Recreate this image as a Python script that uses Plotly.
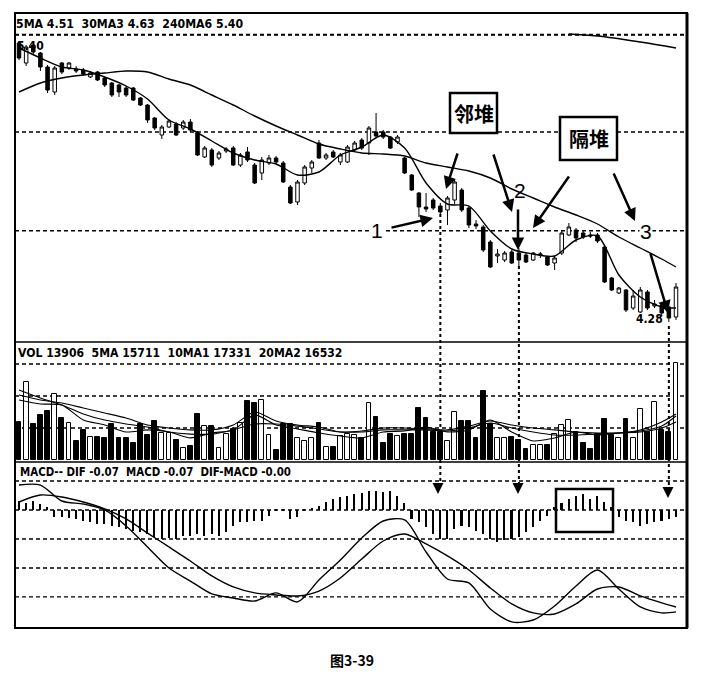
import plotly.graph_objects as go
from plotly.subplots import make_subplots

# ---------------- daily K-line data ----------------
open_ = [5.396, 5.316, 5.388, 5.356, 5.300, 5.200, 5.316, 5.296, 5.292, 5.288,
         5.260, 5.280, 5.256, 5.236, 5.228, 5.216, 5.216, 5.176, 5.148, 5.096,
         5.028, 5.060, 5.072, 5.056, 5.080, 5.036, 4.940, 4.968, 4.936, 4.964,
         4.976, 4.908, 4.960, 4.908, 4.876, 4.916, 4.936, 4.916, 4.820, 4.760,
         4.836, 4.896, 4.996, 4.936, 4.960, 4.920, 4.920, 4.968, 5.008, 4.996,
         5.040, 5.040, 5.020, 5.000, 4.936, 4.868, 4.796, 4.740, 4.768, 4.744,
         4.728, 4.768, 4.808, 4.736, 4.672, 4.660, 4.600, 4.544, 4.528, 4.560,
         4.556, 4.548, 4.528, 4.548, 4.540, 4.516, 4.556, 4.628, 4.648, 4.636,
         4.628, 4.628, 4.580, 4.456, 4.396, 4.408, 4.336, 4.320, 4.400, 4.344,
         4.348, 4.340, 4.300]
high = [5.400, 5.388, 5.392, 5.360, 5.308, 5.304, 5.320, 5.320, 5.304, 5.296,
        5.284, 5.284, 5.260, 5.240, 5.232, 5.224, 5.220, 5.180, 5.152, 5.100,
        5.068, 5.092, 5.080, 5.088, 5.092, 5.044, 4.984, 4.976, 4.964, 4.980,
        4.984, 4.956, 4.980, 4.916, 4.940, 4.948, 4.944, 4.924, 4.828, 4.848,
        4.908, 4.928, 5.008, 4.956, 4.968, 4.956, 4.988, 5.004, 5.016, 5.064,
        5.116, 5.048, 5.024, 5.028, 4.940, 4.872, 4.800, 4.796, 4.776, 4.756,
        4.784, 4.848, 4.816, 4.744, 4.688, 4.668, 4.608, 4.572, 4.564, 4.568,
        4.576, 4.556, 4.560, 4.560, 4.544, 4.544, 4.644, 4.676, 4.656, 4.644,
        4.640, 4.636, 4.588, 4.460, 4.420, 4.412, 4.408, 4.420, 4.408, 4.368,
        4.356, 4.344, 4.436]
low = [5.328, 5.304, 5.352, 5.284, 5.196, 5.188, 5.272, 5.288, 5.276, 5.264,
       5.256, 5.244, 5.220, 5.180, 5.180, 5.180, 5.164, 5.144, 5.076, 5.048,
       5.012, 5.056, 5.024, 5.048, 5.040, 4.944, 4.936, 4.900, 4.928, 4.956,
       4.904, 4.900, 4.920, 4.832, 4.848, 4.908, 4.912, 4.836, 4.752, 4.748,
       4.828, 4.876, 4.932, 4.928, 4.936, 4.908, 4.916, 4.960, 4.968, 4.948,
       5.016, 5.012, 4.972, 4.992, 4.872, 4.804, 4.700, 4.720, 4.728, 4.708,
       4.668, 4.752, 4.720, 4.656, 4.652, 4.560, 4.496, 4.516, 4.520, 4.512,
       4.504, 4.516, 4.524, 4.536, 4.504, 4.488, 4.548, 4.624, 4.600, 4.612,
       4.616, 4.596, 4.436, 4.404, 4.392, 4.320, 4.328, 4.316, 4.328, 4.336,
       4.304, 4.280, 4.288]
close = [5.336, 5.380, 5.360, 5.300, 5.208, 5.296, 5.280, 5.316, 5.284, 5.272,
         5.276, 5.248, 5.228, 5.188, 5.200, 5.188, 5.168, 5.148, 5.088, 5.056,
         5.060, 5.084, 5.028, 5.080, 5.048, 4.948, 4.976, 4.908, 4.956, 4.972,
         4.908, 4.948, 4.928, 4.836, 4.928, 4.936, 4.920, 4.840, 4.756, 4.840,
         4.900, 4.920, 4.936, 4.948, 4.940, 4.948, 4.980, 4.996, 4.976, 5.056,
         5.024, 5.020, 4.976, 5.020, 4.876, 4.808, 4.740, 4.732, 4.736, 4.720,
         4.776, 4.840, 4.728, 4.668, 4.664, 4.568, 4.500, 4.552, 4.556, 4.516,
         4.528, 4.520, 4.556, 4.552, 4.508, 4.536, 4.636, 4.660, 4.616, 4.620,
         4.624, 4.604, 4.440, 4.408, 4.416, 4.328, 4.384, 4.408, 4.336, 4.352,
         4.316, 4.296, 4.420]
days = list(range(len(close)))

# moving averages, sampled every third session
ma_days = [0, 3, 6, 9, 12, 15, 18, 21, 24, 27, 30, 33, 36, 39, 42, 45,
           48, 51, 54, 57, 60, 63, 66, 69, 72, 75, 78, 81, 84, 87, 90, 92]
ma5 = [5.376, 5.336, 5.300, 5.288, 5.260, 5.224, 5.172, 5.088, 5.052, 5.004,
       4.956, 4.928, 4.912, 4.868, 4.880, 4.948, 4.980, 5.028, 4.976, 4.836,
       4.752, 4.744, 4.644, 4.572, 4.552, 4.544, 4.608, 4.624, 4.468, 4.380,
       4.340, 4.336]
ma30 = [5.200, 5.236, 5.256, 5.268, 5.276, 5.284, 5.280, 5.252, 5.228, 5.188,
        5.148, 5.104, 5.064, 5.028, 4.992, 4.972, 4.956, 4.952, 4.944, 4.916,
        4.900, 4.884, 4.856, 4.812, 4.776, 4.740, 4.708, 4.672, 4.620, 4.576,
        4.532, 4.500]
ma240_days = [77, 81, 87, 92]
ma240 = [5.432, 5.424, 5.400, 5.376]

# ---------------- volume ----------------
volume = [11900, 24400, 11250, 14000, 15300, 20600, 13100, 11600, 5900, 9400,
          7200, 7200, 6900, 11200, 6900, 6900, 5300, 11200, 7800, 12200,
          8400, 8400, 6300, 3800, 4400, 14400, 10600, 10600, 3800, 8100,
          9700, 11600, 18400, 17800, 18700, 7800, 3100, 11200, 11200, 6900,
          5900, 6900, 11600, 4100, 4100, 7500, 8100, 7800, 6900, 17800,
          13400, 5300, 8100, 7500, 8100, 8100, 16200, 13100, 8700, 8700,
          5900, 15000, 12200, 12200, 6900, 21600, 11200, 6900, 6900, 7200,
          6300, 3400, 4700, 4700, 4700, 8100, 10900, 12500, 8700, 5300,
          3400, 8100, 12800, 7800, 6900, 12800, 6900, 15900, 8700, 18100,
          9400, 8700, 30300]
vma5 = [18750, 17500, 17200, 12500, 10950, 8750, 9400, 8750, 6900, 8450,
        9400, 14100, 10950, 9700, 8450, 7500, 6900, 8750, 9050, 10300,
        8750, 9400, 12500, 8750, 5950, 6900, 8750, 7800, 8450, 9050,
        10600, 13750]
vma10 = [21900, 19400, 17200, 14400, 12500, 11250, 10300, 8750, 8100, 8100,
         9400, 11250, 11250, 10600, 9700, 8750, 8750, 9400, 9400, 9400,
         9050, 10000, 11550, 10000, 8750, 7800, 7800, 8100, 8450, 8750,
         10000, 11900]
vma20 = [20300, 18750, 17800, 16250, 14700, 13100, 10950, 10000, 9400, 9400,
         10950, 15000, 12200, 10950, 10300, 8750, 9050, 10000, 10000, 9700,
         9400, 10600, 12200, 10950, 10000, 9400, 8750, 8450, 8450, 9400,
         11900, 14400]

# ---------------- MACD ----------------
dif = [0.0172, 0.0172, 0.0062, 0.0041, 0.0000, -0.0110, -0.0255, -0.0400,
       -0.0490, -0.0579, -0.0607, -0.0628, -0.0572, -0.0634, -0.0483, -0.0345,
       -0.0193, -0.0076, -0.0069, -0.0290, -0.0476, -0.0503, -0.0683, -0.0772,
       -0.0759, -0.0662, -0.0524, -0.0414, -0.0545, -0.0669, -0.0710, -0.0703]
dea = [0.0055, 0.0103, 0.0090, 0.0055, 0.0007, -0.0062, -0.0159, -0.0255,
       -0.0352, -0.0455, -0.0531, -0.0572, -0.0586, -0.0593, -0.0559, -0.0469,
       -0.0338, -0.0214, -0.0166, -0.0234, -0.0317, -0.0414, -0.0538, -0.0648,
       -0.0710, -0.0717, -0.0648, -0.0545, -0.0531, -0.0593, -0.0641, -0.0669]
macd_bar = [0.006, 0.005, 0.006, 0.004, 0.002,
            -0.005, -0.005, -0.0055, -0.006, -0.0074, -0.0085, -0.0097, -0.0097,
            -0.0108, -0.012, -0.0131, -0.0143, -0.0154, -0.0166, -0.0189, -0.02,
            -0.0195, -0.02, -0.0177, -0.0177, -0.0166, -0.0177, -0.0166, -0.018,
            -0.0154, -0.0108, -0.0085, -0.0085, -0.0074, -0.0074, -0.004, -0.001,
            -0.001, -0.006, -0.005, -0.001,
            0.001, 0.003, 0.0053, 0.0076, 0.0088, 0.0099, 0.011, 0.0115, 0.0133,
            0.0133, 0.0125, 0.0133, 0.0099, 0.005,
            -0.006, -0.0085, -0.012, -0.0166, -0.02, -0.02, -0.0131, -0.0108,
            -0.012, -0.0143, -0.0166, -0.02, -0.0223, -0.021, -0.02, -0.0189,
            -0.0154, -0.012, -0.0075, -0.004,
            0.002, 0.0045, 0.0075, 0.0099, 0.011, 0.0076, 0.0099, 0.0053, 0.0019,
            -0.0045, -0.0074, -0.0085, -0.0108, -0.0097, -0.0085, -0.0074,
            -0.0062, -0.0045]

price_grid = [5.43, 5.04, 4.645]
vol_grid = [10000, 20000, 30000]
macd_grid = [0.02, 0.0, -0.02, -0.04, -0.06]

price_header = "5MA 4.51&nbsp;&nbsp;30MA3 4.63&nbsp;&nbsp;240MA6 5.40"
vol_header = "VOL 13906&nbsp;&nbsp;5MA 15711&nbsp;&nbsp;10MA1 17331&nbsp;&nbsp;20MA2 16532"
macd_header = "MACD-- DIF -0.07&nbsp;&nbsp;MACD -0.07&nbsp;&nbsp;DIF-MACD -0.00"
caption = "图3-39"

W, H = 705, 679
L, R, T, B = 15, 687, 13, 628


def px(X):
    return (X - L) / (R - L)


def py(Y):
    return (B - Y) / (B - T)


fig = make_subplots(rows=3, cols=1, shared_xaxes=True, vertical_spacing=0)

fig.add_trace(go.Candlestick(
    x=days, open=open_, high=high, low=low, close=close,
    increasing=dict(line=dict(color="black", width=1), fillcolor="white"),
    decreasing=dict(line=dict(color="black", width=1), fillcolor="black"),
    whiskerwidth=0, showlegend=False, hoverinfo="skip"), row=1, col=1)
for ys in (ma5, ma30):
    fig.add_trace(go.Scatter(x=ma_days, y=ys, mode="lines",
                             line=dict(color="black", width=1.4, shape="spline", smoothing=0.8),
                             showlegend=False, hoverinfo="skip"), row=1, col=1)
fig.add_trace(go.Scatter(x=ma240_days, y=ma240, mode="lines",
                         line=dict(color="black", width=1.6, shape="spline"),
                         showlegend=False, hoverinfo="skip"), row=1, col=1)

vol_colors = ["white" if c >= o else "black" for o, c in zip(open_, close)]
fig.add_trace(go.Bar(x=days, y=volume, width=0.68, marker=dict(color=vol_colors,
                     line=dict(color="black", width=1)),
                     showlegend=False, hoverinfo="skip"), row=2, col=1)
for ys in (vma5, vma10, vma20):
    fig.add_trace(go.Scatter(x=ma_days, y=ys, mode="lines",
                             line=dict(color="black", width=1.1, shape="spline", smoothing=0.7),
                             showlegend=False, hoverinfo="skip"), row=2, col=1)

fig.add_trace(go.Bar(x=days, y=macd_bar, width=0.22, marker=dict(color="black", line=dict(width=0)),
                     showlegend=False, hoverinfo="skip"), row=3, col=1)
for ys in (dif, dea):
    fig.add_trace(go.Scatter(x=ma_days, y=ys, mode="lines",
                             line=dict(color="black", width=1.4, shape="spline", smoothing=0.8),
                             showlegend=False, hoverinfo="skip"), row=3, col=1)

x_range = [-0.56, 93.54]
for ax in ("xaxis", "xaxis2", "xaxis3"):
    fig.layout[ax].update(range=x_range, visible=False, rangeslider=dict(visible=False))
fig.layout.yaxis.update(domain=[py(342), 1], range=[4.200, 5.516], visible=False)
fig.layout.yaxis2.update(domain=[py(462), py(342)], range=[-625, 36875], visible=False)
fig.layout.yaxis3.update(domain=[0, py(462)], range=[-0.0814, 0.0331], visible=False)

shapes = []
dash = "4px,3px"
for g in price_grid:
    shapes.append(dict(type="line", xref="paper", yref="y", x0=0, x1=1, y0=g, y1=g,
                       line=dict(color="black", width=1.3, dash=dash), layer="below"))
for g in vol_grid:
    shapes.append(dict(type="line", xref="paper", yref="y2", x0=0, x1=1, y0=g, y1=g,
                       line=dict(color="black", width=1.3, dash=dash), layer="below"))
for g in macd_grid:
    shapes.append(dict(type="line", xref="paper", yref="y3", x0=0, x1=1, y0=g, y1=g,
                       line=dict(color="black", width=1.3, dash=dash), layer="below"))
# header rule of the price panel
shapes.append(dict(type="line", xref="paper", yref="paper", x0=0, x1=1, y0=py(35), y1=py(35),
                   line=dict(color="black", width=1.3, dash=dash), layer="below"))
# small ticks to the left of the frame
for ref, vals in (("y2", vol_grid), ("y3", macd_grid)):
    for g in vals:
        shapes.append(dict(type="line", xref="paper", yref=ref, x0=px(11), x1=px(11),
                           y0=g, y1=g, line=dict(color="black", width=2),
                           layer="above"))
# frame
shapes.append(dict(type="rect", xref="paper", yref="paper", x0=0, x1=1, y0=0, y1=1,
                   line=dict(color="black", width=2)))
shapes.append(dict(type="line", xref="paper", yref="paper", x0=1, x1=1, y0=0, y1=1,
                   line=dict(color="black", width=3)))
for Y in (342, 462):
    shapes.append(dict(type="line", xref="paper", yref="paper", x0=0, x1=1, y0=py(Y), y1=py(Y),
                       line=dict(color="black", width=1.5)))
# dotted guides from price lows down into the MACD panel
for d, Y0, Y1 in ((59, 214, 486), (70, 266, 486), (91, 326, 490)):
    shapes.append(dict(type="line", xref="x", yref="paper", x0=d, x1=d, y0=py(Y0), y1=py(Y1),
                       line=dict(color="black", width=2, dash="dot")))
# labelled boxes
shapes.append(dict(type="rect", xref="paper", yref="paper", x0=px(450), x1=px(497),
                   y0=py(133), y1=py(93), line=dict(color="black", width=2.5),
                   fillcolor="white", layer="above"))
shapes.append(dict(type="rect", xref="paper", yref="paper", x0=px(560), x1=px(617),
                   y0=py(160), y1=py(117), line=dict(color="black", width=2.5),
                   fillcolor="white", layer="above"))
shapes.append(dict(type="rect", xref="paper", yref="paper", x0=px(556), x1=px(613),
                   y0=py(532), y1=py(489), line=dict(color="black", width=2.5)))

hdr_font = dict(family="Liberation Sans Narrow, DejaVu Sans Condensed, Arial Narrow, sans-serif",
                size=12, color="black")
ann = []


def text(X, Y, s, size=12, font=None, anchor="left", bg=None, bold=True):
    f = dict(font or hdr_font)
    f["size"] = size
    ann.append(dict(xref="paper", yref="paper", x=px(X), y=py(Y), text=(f"<b>{s}</b>" if bold else s),
                    showarrow=False, xanchor=anchor, yanchor="middle", font=f,
                    bgcolor=bg, borderpad=0))


text(15, 24, price_header, 12.2)
text(17, 353, vol_header, 12.1)
text(19, 472, macd_header, 11.4)
text(16, 46, "5.40", 12)
text(635, 319, "4.28", 12)

cjk = dict(family="Noto Sans CJK SC", size=20, color="black")
text(473.5, 113, "邻堆", 20, font=cjk, anchor="center")
text(588.5, 138.5, "隔堆", 20, font=cjk, anchor="center")
num_font = dict(family="Liberation Sans, Arial, sans-serif", size=21, color="black")
text(377, 230, "1", 21, font=num_font, anchor="center", bg="white", bold=False)
text(520, 190, "2", 21, font=num_font, anchor="center", bold=False)
text(646, 231, "3", 21, font=num_font, anchor="center", bg="white", bold=False)
text(352, 660, caption, 14, font=dict(family="Noto Sans CJK SC", size=14, color="black"),
     anchor="center")


def arrow(tx, ty, hx, hy, width=2.5, size=1.0):
    ann.append(dict(xref="paper", yref="paper", x=px(hx), y=py(hy), ax=tx - hx, ay=ty - hy,
                    axref="pixel", ayref="pixel", text="", showarrow=True, arrowhead=2,
                    arrowsize=size, arrowwidth=width, arrowcolor="black"))


arrow(390, 228, 433, 218)
arrow(458, 152, 446, 189)
arrow(493, 153, 512, 212)
arrow(518, 208, 518, 250)
arrow(570, 175, 533, 228)
arrow(613, 172, 635, 221)
arrow(650, 252, 668, 313)
for X, Y in ((438, 494), (518, 494), (668, 498)):
    arrow(X, Y - 12, X, Y, width=2, size=1.1)

fig.update_layout(width=W, height=H, margin=dict(l=L, r=W - R, t=T, b=H - B),
                  paper_bgcolor="white", plot_bgcolor="white", shapes=shapes,
                  annotations=ann, showlegend=False, bargap=0)

fig.write_html("out.html")
